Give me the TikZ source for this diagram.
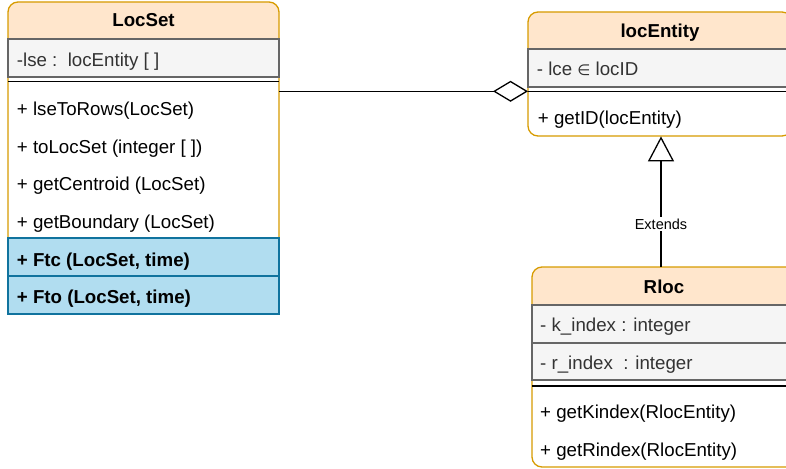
\documentclass[tikz,border=0pt]{standalone}
\usepackage{fontspec}
\setmainfont{Liberation Sans}
\newfontfamily\dejavu{DejaVu Sans}
\usetikzlibrary{arrows.meta}
\definecolor{hdrfill}{HTML}{FFE6CC}
\definecolor{hdrdraw}{HTML}{D79B00}
\definecolor{attrfill}{HTML}{F5F5F5}
\definecolor{attrdraw}{HTML}{666666}
\definecolor{attrtext}{HTML}{333333}
\definecolor{bluefill}{HTML}{B1DDF0}
\definecolor{bluedraw}{HTML}{10739E}
\begin{document}
\begin{tikzpicture}[x=1pt,y=-1pt,
  boxbg/.style={fill=white, rounded corners=10pt, inner sep=0pt, anchor=north west},
  boxline/.style={draw=hdrdraw, line width=1.3pt, rounded corners=10pt},
  attr/.style={fill=attrfill, draw=attrdraw, line width=1.2pt},
  hl/.style={fill=bluefill, draw=bluedraw, line width=1.2pt},
  sepline/.style={draw=black, line width=1.5pt},
  ttl/.style={font=\fontsize{18.7}{22}\selectfont\bfseries, anchor=base, inner sep=0pt},
  mtxt/.style={font=\fontsize{18.7}{22}\selectfont, anchor=base west, inner sep=0pt},
  atxt/.style={mtxt, text=attrtext},
  btxt/.style={mtxt, font=\fontsize{18.7}{22}\selectfont\bfseries},
  conn/.style={draw=black, line width=1.3pt},
]
\useasboundingbox (0,0) rectangle (786,468);
\clip (0,0) rectangle (786,468);

% ---------- LocSet ----------
\node[boxbg, minimum width=271pt, minimum height=312pt] (locset) at (8,2) {};
\fill[hdrfill] (8,39) [rounded corners=10pt] -- (8,2) -- (279,2) [sharp corners] -- (279,39) -- cycle;
\draw[boxline] (8,2) rectangle (279,314);
\draw[attr] (8,39) rectangle (279,77);
\draw[hl] (8,238) rectangle (279,276);
\draw[hl] (8,276) rectangle (279,314);
\draw[sepline] (8,81.5) -- (279,81.5);
\node[ttl] (ls-t) at (143.5,27) {LocSet};
\node[atxt] (ls-a1) at (16.7,67) {-lse :\ \ locEntity [ ]};
\node[mtxt] (ls-m1) at (16.7,115) {+ lseToRows(LocSet)};
\node[mtxt] (ls-m2) at (16.7,153.3) {+ toLocSet (integer [ ])};
\node[mtxt] (ls-m3) at (16.7,190.7) {+ getCentroid (LocSet)};
\node[mtxt] (ls-m4) at (16.7,228) {+ getBoundary (LocSet)};
\node[btxt] (ls-m5) at (16.7,266.5) {+ Ftc (LocSet, time)};
\node[btxt] (ls-m6) at (16.7,303.3) {+ Fto (LocSet, time)};

% ---------- locEntity ----------
\node[boxbg, minimum width=264pt, minimum height=124pt] (locentity) at (528,12) {};
\fill[hdrfill] (528,49) [rounded corners=10pt] -- (528,12) -- (792,12) [sharp corners] -- (792,49) -- cycle;
\draw[boxline] (528,12) rectangle (792,136);
\draw[attr] (528,49) rectangle (792,87);
\draw[sepline] (528,91.5) -- (792,91.5);
\node[ttl] (le-t) at (660,37.3) {locEntity};
\node[atxt] (le-a1) at (536.7,76) {- lce {\dejavu\fontsize{15}{18}\selectfont ∈} locID};
\node[mtxt] (le-m1) at (537.7,124.5) {+ getID(locEntity)};

% ---------- Rloc ----------
\node[boxbg, minimum width=264pt, minimum height=200pt] (rloc) at (532,267) {};
\fill[hdrfill] (532,305) [rounded corners=10pt] -- (532,267) -- (796,267) [sharp corners] -- (796,305) -- cycle;
\draw[boxline] (532,267) rectangle (796,467);
\draw[attr] (532,305) rectangle (796,343);
\draw[attr] (532,343) rectangle (796,380);
\draw[sepline] (532,386) -- (796,386);
\node[ttl] (rl-t) at (664,293.3) {Rloc};
\node[atxt] (rl-a1) at (540,331.7) {- k\_index : integer};
\node[atxt] (rl-a2) at (540,369.3) {- r\_index\ \ : integer};
\node[mtxt] (rl-m1) at (540,418.3) {+ getKindex(RlocEntity)};
\node[mtxt] (rl-m2) at (540,456) {+ getRindex(RlocEntity)};

% ---------- connectors ----------
\coordinate (aggY) at (0,91.3);
\draw[conn, -{Diamond[open, length=35pt, width=21pt]}] (locset.east |- aggY) -- (locentity.west |- aggY);
\coordinate (extX) at (661,0);
\draw[conn, -{Triangle[open, length=25pt, width=26pt]}] (rloc.north -| extX) -- (locentity.south -| extX)
  node[pos=0.33, fill=white, inner sep=1.5pt, font=\fontsize{14.5}{17}\selectfont] (extlbl) {Extends};
\end{tikzpicture}
\end{document}
